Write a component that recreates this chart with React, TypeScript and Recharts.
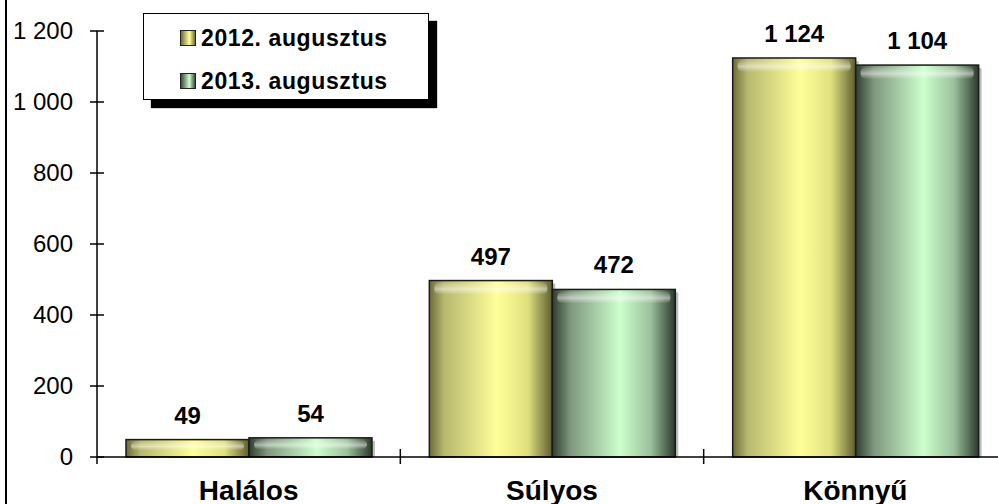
import React from 'react';
import { BarChart, Bar, XAxis, YAxis, Legend, LabelList } from 'recharts';

const categories = ['Halálos', 'Súlyos', 'Könnyű'];
const series2012 = [49, 497, 1124];
const series2013 = [54, 472, 1104];
const seriesNames = ['2012. augusztus', '2013. augusztus'];
const yTicks = [0, 200, 400, 600, 800, 1000, 1200];

const data = categories.map((c, i) => ({ name: c, a: series2012[i], b: series2013[i] }));

const FONT = '"Liberation Sans", Arial, sans-serif';
const fmt = (v: number) => String(v).replace(/\B(?=(\d{3})+(?!\d))/g, ' ');

const makeShape = (gid: string) => (props: any) => {
  const { x, y, width, height } = props;
  if (height <= 0) return null;
  const bevel = Math.min(12, height / 2);
  return (
    <g>
      <rect x={x + 3} y={y + 3} width={width} height={height - 3} fill="#000" opacity={0.25} />
      <rect x={x} y={y} width={width} height={height} fill={`url(#${gid})`} stroke="#1a1a1a" strokeWidth={1.5} />
      <rect x={x + 5} y={y + 2} width={width - 10} height={bevel} rx={5} fill="url(#bevel)" />
    </g>
  );
};

const YTick = (props: any) => {
  const { x, y, payload } = props;
  return (
    <g>
      <line x1={x - 7} x2={x + 7} y1={y} y2={y} stroke="#000" strokeWidth={1.5} />
      <text x={x - 24} y={y + 8} textAnchor="end" fontSize={24} fontFamily={FONT} fill="#000">
        {fmt(payload.value)}
      </text>
    </g>
  );
};

const XTick = (props: any) => {
  const { x, y, payload, index } = props;
  const half = payload && typeof payload.offset === 'number' && payload.offset > 0 ? payload.offset : 151.7;
  return (
    <g>
      {index === 0 && <line x1={x - half} x2={x - half} y1={y} y2={y + 7} stroke="#000" strokeWidth={1.5} />}
      <line x1={x + half} x2={x + half} y1={y - 8} y2={y + 7} stroke="#000" strokeWidth={1.5} />
      <text x={x} y={y + 43} textAnchor="middle" fontSize={28} fontWeight="bold" fontFamily={FONT} fill="#000">
        {payload.value}
      </text>
    </g>
  );
};

const LegendContent = () => {
  const grads = [
    'linear-gradient(90deg,#6e6e3a,#ffff99 60%,#6e6e3a)',
    'linear-gradient(90deg,#3a4a3a,#ccffcc 60%,#3a4a3a)',
  ];
  return (
    <div
      style={{
        width: 286,
        height: 87,
        boxSizing: 'border-box',
        border: '1.5px solid #000',
        background: '#fff',
        boxShadow: '8px 8px 1px #000',
        fontFamily: FONT,
        position: 'relative',
      }}
    >
      {seriesNames.map((n, i) => (
        <div
          key={n}
          style={{
            position: 'absolute',
            left: 36,
            top: i === 0 ? 10 : 53,
            display: 'flex',
            alignItems: 'center',
            fontSize: 23,
            fontWeight: 'bold',
            letterSpacing: 0.6,
            lineHeight: '28px',
            whiteSpace: 'nowrap',
          }}
        >
          <span
            style={{
              display: 'inline-block',
              width: 14,
              height: 14,
              border: '1.5px solid #222',
              background: grads[i],
              marginRight: 5,
            }}
          />
          {n}
        </div>
      ))}
    </div>
  );
};

export default function App() {
  return (
    <div style={{ position: 'absolute', left: 0, top: 0, width: 998, height: 504, overflow: 'hidden', background: '#fff' }}>
      <div style={{ position: 'absolute', left: 5, top: 0, width: 2, height: 504, background: '#000' }} />
      <BarChart
        width={1010}
        height={504}
        data={data}
        margin={{ top: 31, right: 3, bottom: 0, left: 0 }}
        barCategoryGap={29}
        barGap={0}
      >
        <defs>
          <linearGradient id="gYellow" x1="0" y1="0" x2="1" y2="0">
            <stop offset="0" stopColor="#6b6b38" />
            <stop offset="0.12" stopColor="#b8b870" />
            <stop offset="0.55" stopColor="#ffff99" />
            <stop offset="0.8" stopColor="#e0e080" />
            <stop offset="1" stopColor="#5e5e30" />
          </linearGradient>
          <linearGradient id="gGreen" x1="0" y1="0" x2="1" y2="0">
            <stop offset="0" stopColor="#2e3d2e" />
            <stop offset="0.15" stopColor="#809880" />
            <stop offset="0.55" stopColor="#ccffcc" />
            <stop offset="0.8" stopColor="#9cc09c" />
            <stop offset="1" stopColor="#2a382a" />
          </linearGradient>
          <linearGradient id="bevel" x1="0" y1="0" x2="0" y2="1">
            <stop offset="0" stopColor="#fff" stopOpacity={0.05} />
            <stop offset="0.55" stopColor="#fff" stopOpacity={0.5} />
            <stop offset="1" stopColor="#fff" stopOpacity={0} />
          </linearGradient>
        </defs>
        <XAxis
          dataKey="name"
          height={47}
          axisLine={{ stroke: '#000', strokeWidth: 1.5 }}
          tickLine={false}
          tickSize={0}
          tickMargin={0}
          tick={<XTick />}
          interval={0}
        />
        <YAxis
          width={97}
          domain={[0, 1200]}
          ticks={yTicks}
          axisLine={{ stroke: '#000', strokeWidth: 1.5 }}
          tickLine={false}
          tickSize={0}
          tickMargin={0}
          tick={<YTick />}
          interval={0}
        />
        <Legend
          layout="vertical"
          align="center"
          verticalAlign="middle"
          content={<LegendContent />}
          wrapperStyle={{ left: 143, top: 13, width: 286, height: 87 }}
        />
        <Bar dataKey="a" name={seriesNames[0]} shape={makeShape('gYellow')} isAnimationActive={false}>
          <LabelList dataKey="a" position="top" offset={16} formatter={(v: any) => fmt(v)} fontSize={24} fontWeight="bold" fontFamily={FONT} fill="#000" />
        </Bar>
        <Bar dataKey="b" name={seriesNames[1]} shape={makeShape('gGreen')} isAnimationActive={false}>
          <LabelList dataKey="b" position="top" offset={16} formatter={(v: any) => fmt(v)} fontSize={24} fontWeight="bold" fontFamily={FONT} fill="#000" />
        </Bar>
      </BarChart>
    </div>
  );
}
